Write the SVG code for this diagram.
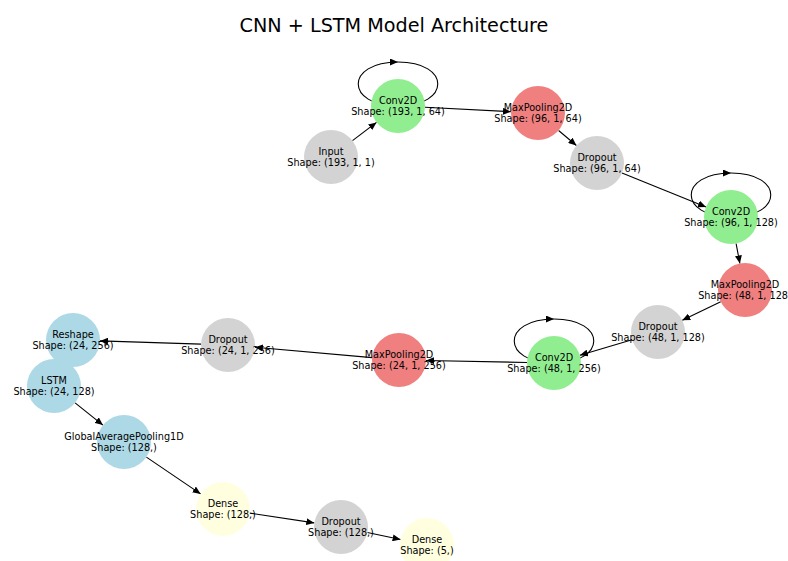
<svg xmlns="http://www.w3.org/2000/svg" width="788" height="561" viewBox="0 0 788 561">
  <style>
    .title { font-family: "DejaVu Sans", "Liberation Sans", sans-serif; font-size: 19.2px; fill: #000; text-anchor: middle; }
    .lbl { font-family: "DejaVu Sans", "Liberation Sans", sans-serif; font-size: 9.7px; fill: #000; text-anchor: middle; }
    .edge { fill: none; stroke: #000; stroke-width: 1.1; marker-end: url(#arrow); }
    .gray { fill: #d3d3d3; }
    .green { fill: #90ee90; }
    .coral { fill: #f08080; }
    .blue { fill: #add8e6; }
    .yellow { fill: #ffffe0; }
  </style>
  <defs>
    <marker id="arrow" markerUnits="userSpaceOnUse" markerWidth="8" markerHeight="7" refX="8" refY="3.5" orient="auto">
      <path d="M0,0 L8,3.5 L0,7 z" fill="#000"/>
    </marker>
  </defs>
  <rect width="788" height="561" fill="#fff"/>
  <text class="title" x="394" y="31.5">CNN + LSTM Model Architecture</text>

  <!-- connectors -->
  <g id="edges">
    <path class="edge" d="M352.5,140.6 L376.5,122.4"/>
    <path class="edge" d="M398,62 C451,62 451,106 398,106 C345,106 345,62 398,62"/>
    <path class="edge" d="M425,107.3 L511,111.7"/>
    <path class="edge" d="M558.6,130.5 L576.4,145.5"/>
    <path class="edge" d="M622,173.1 L706,206.9"/>
    <path class="edge" d="M731,173 C784,173 784,217 731,217 C678,217 678,173 731,173"/>
    <path class="edge" d="M736.1,243.5 L739.9,263.5"/>
    <path class="edge" d="M720.7,301.7 L682.3,320.3"/>
    <path class="edge" d="M632.1,339.7 L579.9,355.3"/>
    <path class="edge" d="M554,319 C607,319 607,363 554,363 C501,363 501,319 554,319"/>
    <path class="edge" d="M527,362.5 L426,360.5"/>
    <path class="edge" d="M372.1,357.6 L254.9,347.3"/>
    <path class="edge" d="M201,344.1 L100,340.9"/>
    <path class="edge" d="M75.1,402.9 L102.9,425.1"/>
    <path class="edge" d="M146.4,457.1 L200.6,493.9"/>
    <path class="edge" d="M249.7,513.1 L314.3,522.9"/>
    <path class="edge" d="M367.4,532.5 L400.6,539.5"/>
  </g>

  <!-- layers -->
  <g id="input">
    <circle class="gray" cx="331" cy="157" r="27"/>
    <text class="lbl" x="331" y="154.5">Input</text>
    <text class="lbl" x="331" y="166">Shape: (193, 1, 1)</text>
  </g>
  <g id="conv2d_1">
    <circle class="green" cx="398" cy="106" r="27"/>
    <text class="lbl" x="398" y="103.5">Conv2D</text>
    <text class="lbl" x="398" y="115">Shape: (193, 1, 64)</text>
  </g>
  <g id="maxpool_1">
    <circle class="coral" cx="538" cy="113" r="27"/>
    <text class="lbl" x="538" y="110.5">MaxPooling2D</text>
    <text class="lbl" x="538" y="122">Shape: (96, 1, 64)</text>
  </g>
  <g id="dropout_1">
    <circle class="gray" cx="597" cy="163" r="27"/>
    <text class="lbl" x="597" y="160.5">Dropout</text>
    <text class="lbl" x="597" y="172">Shape: (96, 1, 64)</text>
  </g>
  <g id="conv2d_2">
    <circle class="green" cx="731" cy="217" r="27"/>
    <text class="lbl" x="731" y="214.5">Conv2D</text>
    <text class="lbl" x="731" y="226">Shape: (96, 1, 128)</text>
  </g>
  <g id="maxpool_2">
    <circle class="coral" cx="745" cy="290" r="27"/>
    <text class="lbl" x="745" y="287.5">MaxPooling2D</text>
    <text class="lbl" x="745" y="299">Shape: (48, 1, 128)</text>
  </g>
  <g id="dropout_2">
    <circle class="gray" cx="658" cy="332" r="27"/>
    <text class="lbl" x="658" y="329.5">Dropout</text>
    <text class="lbl" x="658" y="341">Shape: (48, 1, 128)</text>
  </g>
  <g id="conv2d_3">
    <circle class="green" cx="554" cy="363" r="27"/>
    <text class="lbl" x="554" y="360.5">Conv2D</text>
    <text class="lbl" x="554" y="372">Shape: (48, 1, 256)</text>
  </g>
  <g id="maxpool_3">
    <circle class="coral" cx="399" cy="360" r="27"/>
    <text class="lbl" x="399" y="357.5">MaxPooling2D</text>
    <text class="lbl" x="399" y="369">Shape: (24, 1, 256)</text>
  </g>
  <g id="dropout_3">
    <circle class="gray" cx="228" cy="345" r="27"/>
    <text class="lbl" x="228" y="342.5">Dropout</text>
    <text class="lbl" x="228" y="354">Shape: (24, 1, 256)</text>
  </g>
  <g id="reshape">
    <circle class="blue" cx="73" cy="340" r="27"/>
    <text class="lbl" x="73" y="337.5">Reshape</text>
    <text class="lbl" x="73" y="349">Shape: (24, 256)</text>
  </g>
  <g id="lstm">
    <circle class="blue" cx="54" cy="386" r="27"/>
    <text class="lbl" x="54" y="383.5">LSTM</text>
    <text class="lbl" x="54" y="395">Shape: (24, 128)</text>
  </g>
  <g id="gap1d">
    <circle class="blue" cx="124" cy="442" r="27"/>
    <text class="lbl" x="124" y="439.5">GlobalAveragePooling1D</text>
    <text class="lbl" x="124" y="451">Shape: (128,)</text>
  </g>
  <g id="dense_1">
    <circle class="yellow" cx="223" cy="509" r="27"/>
    <text class="lbl" x="223" y="506.5">Dense</text>
    <text class="lbl" x="223" y="518">Shape: (128,)</text>
  </g>
  <g id="dropout_4">
    <circle class="gray" cx="341" cy="527" r="27"/>
    <text class="lbl" x="341" y="524.5">Dropout</text>
    <text class="lbl" x="341" y="536">Shape: (128,)</text>
  </g>
  <g id="dense_2">
    <circle class="yellow" cx="427" cy="545" r="27"/>
    <text class="lbl" x="427" y="542.5">Dense</text>
    <text class="lbl" x="427" y="554">Shape: (5,)</text>
  </g>
</svg>
